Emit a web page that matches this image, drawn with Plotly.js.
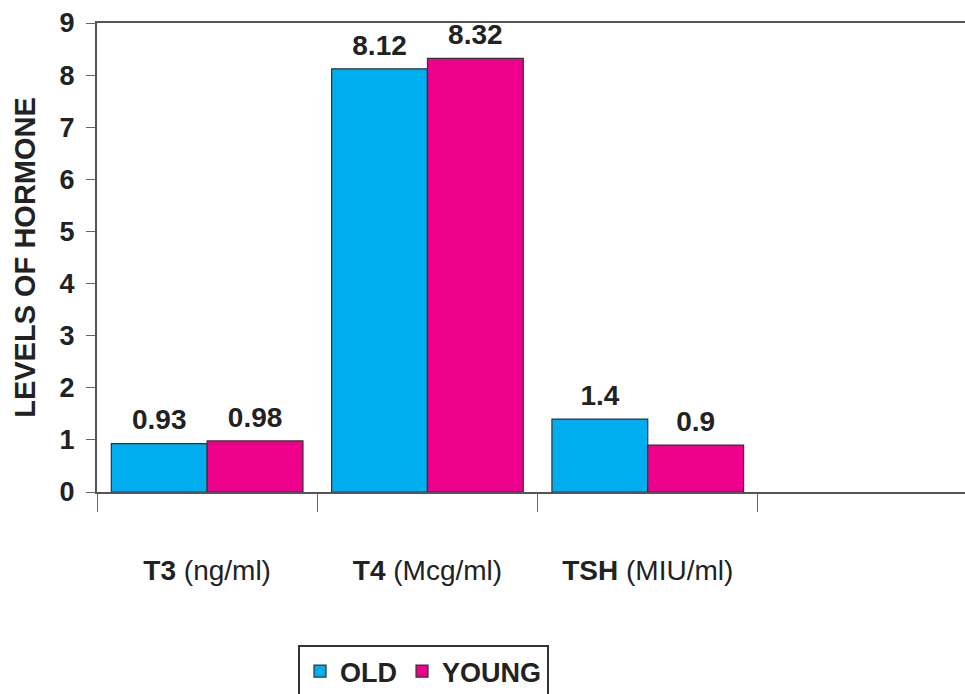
<!DOCTYPE html>
<html>
<head>
<meta charset="utf-8">
<script src="https://cdn.plot.ly/plotly-3.0.1.min.js"></script>
<style>html,body{margin:0;padding:0;background:#fff;}#chart{width:965px;height:694px;}</style>
</head>
<body>
<div id="chart"></div>
<script>
const categories = ["<b>T3</b> (ng/ml)", "<b>T4</b> (Mcg/ml)", "<b>TSH</b> (MIU/ml)", " "];
const oldValues = [0.93, 8.12, 1.4];
const youngValues = [0.98, 8.32, 0.9];
const seriesNames = ["OLD", "YOUNG"];
const yTicks = [0, 1, 2, 3, 4, 5, 6, 7, 8, 9];

const FONT = "Liberation Sans, Arial, sans-serif";
const barText = {family: FONT, size: 28, color: "#222", weight: "bold"};
const colors = ["#00AEEF", "#EC008C"];
const seriesValues = [oldValues, youngValues];

const traces = [];
seriesValues.forEach((vals, i) => {
  traces.push({
    type: "bar", name: seriesNames[i], offsetgroup: seriesNames[i], alignmentgroup: "g",
    x: categories.slice(0, 3), y: vals,
    marker: {color: colors[i], line: {color: "#333", width: 1.2}}
  });
});
seriesValues.forEach((vals, i) => {
  traces.push({
    type: "scatter", mode: "markers+text", showlegend: false,
    offsetgroup: seriesNames[i], alignmentgroup: "g",
    x: categories.slice(0, 3), y: vals,
    text: vals.map(String), textposition: "top center", textfont: barText,
    marker: {size: 10, opacity: 0}, cliponaxis: false, hoverinfo: "skip"
  });
});

const layout = {
  width: 965, height: 694,
  margin: {l: 97, r: 0, t: 23, b: 202},
  paper_bgcolor: "#fff", plot_bgcolor: "#fff",
  barmode: "group", bargap: 0.13, bargroupgap: 0,
  scattermode: "group", scattergap: 0.13,
  font: {family: FONT, color: "#222"},
  showlegend: true,
  legend: {
    orientation: "h", x: 0.2316, xanchor: "left",
    yref: "container", y: 0.0706, yanchor: "top",
    bordercolor: "#333", borderwidth: 2, bgcolor: "#fff",
    font: {family: FONT, size: 27, color: "#222", weight: "bold"},
    itemwidth: 30, tracegroupgap: 0
  },
  xaxis: {
    type: "category", categoryorder: "array", categoryarray: categories,
    range: [-0.5, 3.44], fixedrange: true, automargin: false,
    tickson: "boundaries", ticks: "outside", ticklen: 18, tickwidth: 1, tickcolor: "#666",
    ticklabelstandoff: 52,
    tickfont: {family: FONT, size: 28, color: "#222"},
    showline: true, linecolor: "#555", linewidth: 2, mirror: true,
    showgrid: false, zeroline: false
  },
  yaxis: {
    range: [0, 9], tickvals: yTicks, ticktext: yTicks.map(v => "<b>" + v + "</b>"),
    ticks: "outside", ticklen: 9, tickwidth: 1, tickcolor: "#666",
    ticklabelstandoff: 6, automargin: false,
    tickfont: {family: FONT, size: 27, color: "#222"},
    showline: true, linecolor: "#555", linewidth: 2,
    showgrid: false, zeroline: false,
    title: {text: "<b>LEVELS OF HORMONE</b>", font: {family: FONT, size: 29, color: "#222"}, standoff: 15}
  }
};

Plotly.newPlot("chart", traces, layout, {displayModeBar: false, staticPlot: true});
</script>
</body>
</html>
